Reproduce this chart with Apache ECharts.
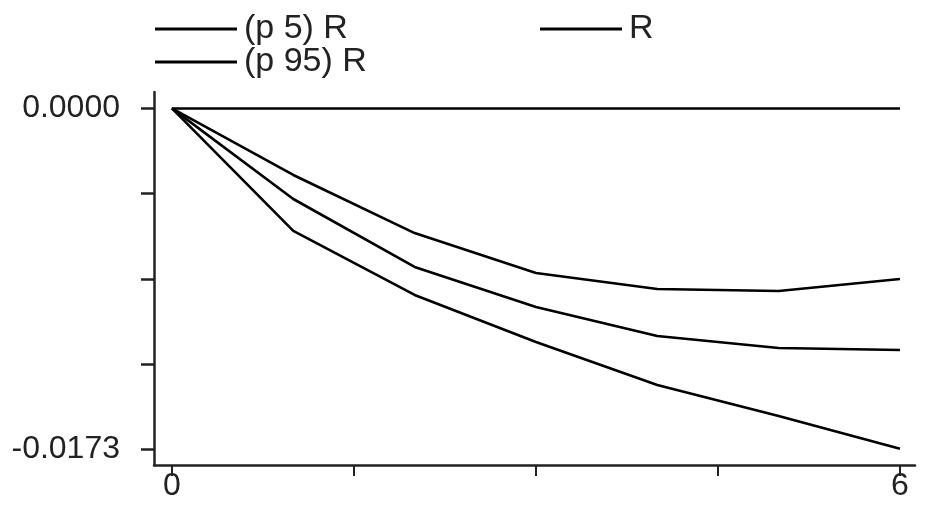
<!DOCTYPE html>
<html>
<head>
<meta charset="utf-8">
<script src="https://cdn.jsdelivr.net/npm/echarts@6/dist/echarts.min.js"></script>
<style>html,body{margin:0;padding:0;background:#fff}#c{width:931px;height:511px}</style>
</head>
<body>
<div id="c"></div>
<script>
// data
var periods = [0, 1, 2, 3, 4, 5, 6];
var p5R  = [0, -0.00622, -0.00947, -0.01186, -0.01404, -0.01561, -0.01728];
var R    = [0, -0.00460, -0.00805, -0.01008, -0.01155, -0.01216, -0.01226];
var p95R = [0, -0.00338, -0.00633, -0.00836, -0.00917, -0.00927, -0.00866];
var xTicks = [0, 1.5, 3, 4.5, 6];
var xLabels = [0, 6];
var yTicks = [0, -0.004325, -0.00865, -0.012975, -0.0173];
var yLabels = [0, -0.0173];
var names = ['(p 5) R', 'R', '(p 95) R'];

function pairs(v){ return periods.map(function(p,i){ return [p, v[i]]; }); }

var font = '"Liberation Sans", Arial, sans-serif';
var ink = '#222';
var chart = echarts.init(document.getElementById('c'), null, {renderer:'canvas'});
function leg(name, left, top){
  return {show:true, data:[name], left:left, top:top, orient:'horizontal',
    icon:'rect', itemWidth:82, itemHeight:3, itemGap:0, padding:0,
    textStyle:{fontFamily:font, fontSize:34, color:ink, padding:[0,0,0,2]},
    selectedMode:false};
}
chart.setOption({
  animation:false,
  backgroundColor:'#fff',
  legend:[leg(names[0],155,12), leg(names[1],540,12), leg(names[2],155,45)],
  grid:{left:154, right:16, top:92, bottom:46, containLabel:false},
  xAxis:{type:'value', min:-0.148, max:6.124,
    axisLine:{show:true, onZero:false, lineStyle:{color:ink, width:2.5}},
    axisTick:{show:true, inside:false, length:11, customValues:xTicks, lineStyle:{color:ink, width:2}},
    axisLabel:{show:true, customValues:xLabels, margin:5, fontFamily:font, fontSize:32, color:ink},
    splitLine:{show:false}},
  yAxis:{type:'value', min:-0.01810, max:0.00083,
    axisLine:{show:true, onZero:false, lineStyle:{color:ink, width:2.5}},
    axisTick:{show:true, inside:false, length:13, customValues:yTicks, lineStyle:{color:ink, width:2.5}},
    axisLabel:{show:true, customValues:yLabels, margin:34, fontFamily:font, fontSize:32, color:ink,
      formatter:function(v){ return v.toFixed(4); }},
    splitLine:{show:false}},
  series:[
    {name:names[0], type:'line', data:pairs(p5R), symbol:'none', color:'#000',
      lineStyle:{color:'#000', width:2.6}},
    {name:names[1], type:'line', data:pairs(R), symbol:'none', color:'#000',
      lineStyle:{color:'#000', width:2.6},
      markLine:{silent:true, symbol:'none', label:{show:false},
        lineStyle:{color:'#000', width:2.6, type:'solid'},
        data:[[{coord:[periods[0],0]},{coord:[periods[periods.length-1],0]}]]}},
    {name:names[2], type:'line', data:pairs(p95R), symbol:'none', color:'#000',
      lineStyle:{color:'#000', width:2.6}}
  ]
});
</script>
</body>
</html>
